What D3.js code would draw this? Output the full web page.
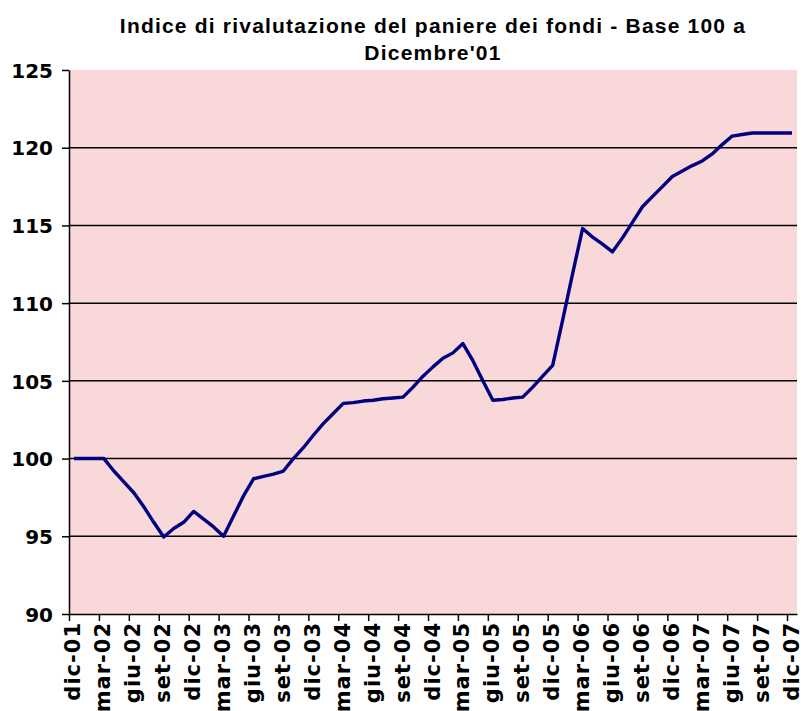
<!DOCTYPE html>
<html>
<head>
<meta charset="utf-8" />
<title>Indice di rivalutazione</title>
<style>
  body { margin: 0; background: #fff; }
  .tick text { font-family: "DejaVu Sans", Verdana, sans-serif; font-weight: bold; }
</style>
</head>
<body>
<svg id="chart" width="803" height="711"></svg>
<script src="https://d3js.org/d3.v7.min.js"></script>
<script>
// monthly index values, dic-01 .. dic-07
var values = [
  100, 100, 100, 100, 99.2, 98.5, 97.8, 96.9, 95.9, 94.95, 95.5, 95.9,
  96.6, 96.1, 95.6, 95.0, 96.3, 97.6, 98.7, 98.85, 99.0, 99.2, 100.0, 100.7,
  101.5, 102.25, 102.9, 103.55, 103.6, 103.7, 103.75, 103.85, 103.9, 103.95, 104.6, 105.3,
  105.9, 106.45, 106.8, 107.4, 106.3, 105.0, 103.75, 103.8, 103.9, 103.95, 104.6, 105.3,
  106.0, 108.9, 111.9, 114.8, 114.25, 113.8, 113.3, 114.2, 115.2, 116.2, 116.85, 117.5,
  118.15, 118.5, 118.85, 119.15, 119.6, 120.2, 120.75, 120.85, 120.95, 120.95, 120.95, 120.95,
  120.95
];
var monthNames = ["gen","feb","mar","apr","mag","giu","lug","ago","set","ott","nov","dic"];
var yTicks = [90, 95, 100, 105, 110, 115, 120, 125];
var titleLines = ["Indice di rivalutazione del paniere dei fondi - Base 100 a", "Dicembre'01"];

// month labels: dic-01 then monthly
var months = values.map(function(v, i){
  var m = (11 + i) % 12;
  var yr = 1 + Math.floor((11 + i) / 12);
  return monthNames[m] + "-" + (yr < 10 ? "0" + yr : yr);
});

var plotL = 69, plotR = 797, plotT = 70, plotB = 614;
var svg = d3.select("#chart");

var x = d3.scaleLinear().domain([0, values.length]).range([plotL, plotR]);
var y = d3.scaleLinear().domain([90, 125]).range([plotB, plotT]);

svg.append("rect")
  .attr("x", plotL).attr("y", plotT)
  .attr("width", plotR - plotL).attr("height", plotB - plotT)
  .attr("fill", "#f8d8d9");

// gridlines
svg.selectAll("line.grid")
  .data(yTicks.filter(function(t){ return t > 90 && t < 125; }))
  .enter().append("line")
  .attr("class", "grid")
  .attr("x1", plotL).attr("x2", plotR)
  .attr("y1", function(d){ return y(d); })
  .attr("y2", function(d){ return y(d); })
  .attr("stroke", "#000")
  .attr("stroke-width", 1.5);

// y axis
var yAxis = svg.append("g")
  .attr("transform", "translate(" + plotL + ",0)")
  .call(d3.axisLeft(y).tickValues(yTicks).tickSize(7).tickSizeOuter(0).tickPadding(9));
yAxis.selectAll("text").attr("font-size", 20).attr("fill", "#000").attr("dy", "0.36em");
yAxis.select(".domain").attr("stroke-width", 1.5);
yAxis.selectAll(".tick line").attr("stroke-width", 1.5);

// x axis: ticks at every 3rd month boundary, labels at the month centre
var xAxis = svg.append("g")
  .attr("transform", "translate(0," + plotB + ")")
  .call(d3.axisBottom(x)
    .tickValues(d3.range(0, values.length, 3))
    .tickFormat(function(i){ return months[i]; })
    .tickSize(7).tickSizeOuter(0));
xAxis.select(".domain").attr("stroke-width", 1.5);
xAxis.selectAll(".tick line").attr("stroke-width", 1.5);
xAxis.selectAll("text")
  .attr("font-size", 21)
  .attr("letter-spacing", 1)
  .attr("fill", "#000")
  .attr("text-anchor", "end")
  .attr("dy", null)
  .attr("y", 0)
  .attr("transform", "translate(" + (x(0.5) - x(0) + 6) + ",8) rotate(-90)");

// line
var line = d3.line()
  .x(function(d, i){ return x(i + 0.5); })
  .y(function(d){ return y(d); });

svg.append("path")
  .datum(values)
  .attr("d", line)
  .attr("fill", "none")
  .attr("stroke", "#000080")
  .attr("stroke-width", 3.4)
  .attr("stroke-linejoin", "round");

// title
svg.selectAll("text.title")
  .data(titleLines)
  .enter().append("text")
  .attr("class", "title")
  .attr("x", (plotL + plotR) / 2)
  .attr("y", function(d, i){ return 33 + i * 27; })
  .attr("text-anchor", "middle")
  .attr("font-family", "'Liberation Sans', sans-serif")
  .attr("font-weight", "bold")
  .attr("font-size", 21)
  .attr("letter-spacing", 1.2)
  .text(function(d){ return d; });
</script>
</body>
</html>
